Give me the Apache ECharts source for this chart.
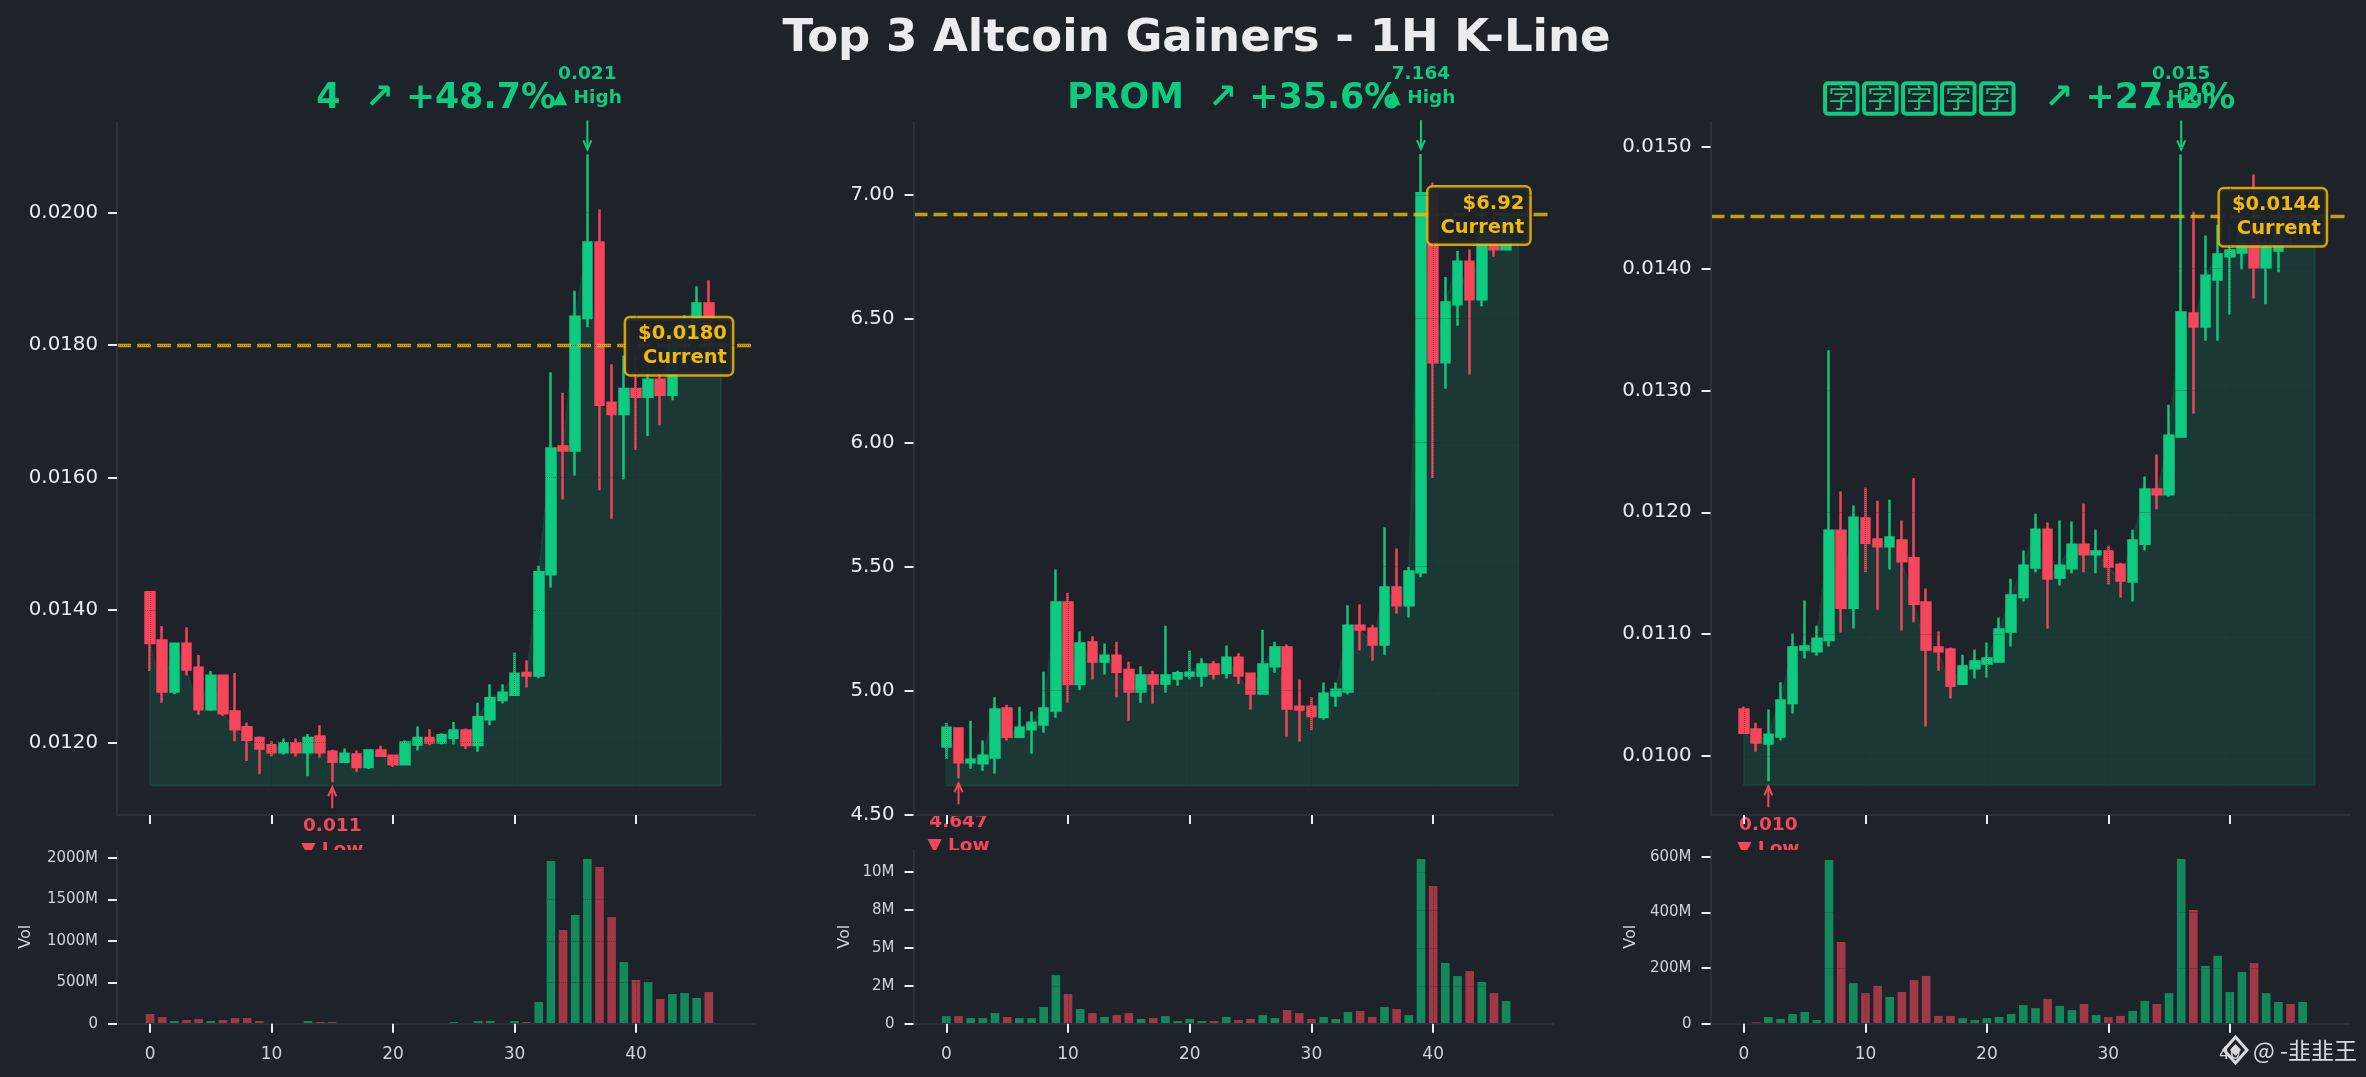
<!DOCTYPE html>
<html>
<head>
<meta charset="utf-8">
<style>html,body{margin:0;padding:0;background:#1e2329}#c{width:2366px;height:1077px}</style>
<script src="https://cdn.jsdelivr.net/npm/echarts@6/dist/echarts.min.js"></script>
</head>
<body>
<div id="c"></div>
<script>
const mainTitle = 'Top 3 Altcoin Gainers - 1H K-Line';
const xTicks = [0, 10, 20, 30, 40];
const watermark = '@ -韭韭王';

// ---- panel 1: "4"
const open1 = [.01427,.01354,.01277,.01349,.01313,.01250,.01301,.01247,.01223,.01207,.01196,.01185,.01199,.01185,.01209,.01186,.01171,.01182,.01163,.01188,.01180,.01167,.01197,.01207,.01200,.01207,.01218,.01196,.01235,.01264,.01272,.01305,.01301,.01454,.01647,.01641,.01841,.01955,.01713,.01696,.01734,.01722,.01748,.01725,.01808,.01832,.01863];
const close1 = [.01350,.01277,.01349,.01310,.01250,.01301,.01244,.01220,.01204,.01191,.01185,.01199,.01185,.01207,.01185,.01171,.01183,.01163,.01188,.01180,.01167,.01200,.01207,.01200,.01211,.01218,.01196,.01238,.01267,.01275,.01304,.01301,.01457,.01644,.01641,.01843,.01955,.01710,.01696,.01734,.01722,.01748,.01725,.01808,.01832,.01863,.01800];
const low1 = [.01308,.01260,.01273,.01301,.01242,.01248,.01240,.01202,.01172,.01152,.01179,.01182,.01179,.01149,.01177,.01140,.01169,.01156,.01160,.01178,.01163,.01166,.01188,.01196,.01197,.01197,.01190,.01186,.01226,.01259,.01272,.01283,.01297,.01434,.01567,.01603,.01827,.01581,.01538,.01597,.01642,.01663,.01679,.01717,.01790,.01815,.01785];
const high1 = [.01428,.01376,.01350,.01374,.01332,.01308,.01302,.01305,.01230,.01209,.01202,.01206,.01206,.01213,.01226,.01189,.01191,.01188,.01189,.01195,.01182,.01203,.01224,.01220,.01214,.01231,.01221,.01260,.01288,.01288,.01336,.01324,.01467,.01759,.01728,.01882,.02088,.02005,.01771,.01784,.01784,.01769,.01762,.01823,.01845,.01889,.01898];
const vol1 = [117,80,32,44,56,32,44,68,68,32,3,3,3,32,20,20,3,3,3,3,3,3,3,3,3,20,5,32,32,5,32,20,262,1964,1130,1312,1988,1891,1288,744,527,503,298,358,370,310,382];
const priceTicks1 = [0.012,0.014,0.016,0.018,0.020];
const priceLabels1 = ['0.0120','0.0140','0.0160','0.0180','0.0200'];
const volTicks1 = [0,500,1000,1500,2000];
const volLabels1 = ['0','500M','1000M','1500M','2000M'];

// ---- panel 2: PROM
const open2 = [4.775,4.848,4.711,4.707,4.730,4.928,4.814,4.844,4.863,4.920,5.356,5.027,5.194,5.117,5.141,5.084,4.996,5.061,5.029,5.049,5.061,5.061,5.106,5.072,5.133,5.068,4.988,5.098,5.174,4.935,4.935,4.894,4.980,4.996,5.262,5.250,5.186,5.416,5.344,5.477,7.006,6.324,6.558,6.730,6.578,6.850,6.780];
const close2 = [4.851,4.711,4.722,4.738,4.924,4.814,4.851,4.871,4.928,5.356,5.027,5.190,5.117,5.141,5.076,4.996,5.061,5.029,5.061,5.070,5.072,5.106,5.068,5.133,5.061,4.988,5.106,5.174,4.928,4.924,4.898,4.988,5.004,5.262,5.246,5.186,5.416,5.344,5.481,7.006,6.324,6.566,6.730,6.578,6.850,6.780,6.920];
const low2 = [4.724,4.647,4.685,4.677,4.666,4.799,4.810,4.746,4.830,4.891,4.951,5.002,5.045,5.065,4.973,4.879,4.951,4.947,4.992,5.020,5.045,5.016,5.045,5.049,5.027,4.924,4.988,5.072,4.814,4.795,4.840,4.883,4.935,4.984,5.162,5.121,5.145,5.311,5.295,5.457,5.858,6.218,6.472,6.275,6.550,6.750,6.802];
const high2 = [4.871,4.851,4.879,4.799,4.973,4.943,4.935,4.916,5.076,5.489,5.395,5.239,5.219,5.190,5.197,5.117,5.098,5.080,5.262,5.080,5.162,5.131,5.121,5.182,5.151,5.072,5.246,5.197,5.186,5.045,4.973,5.033,5.033,5.344,5.348,5.266,5.659,5.573,5.500,7.164,7.049,6.668,6.773,6.779,6.950,6.930,6.980];
const vol2 = [.5,.5,.37,.37,.7,.44,.37,.37,1.1,3.2,1.96,.97,.7,.44,.57,.7,.31,.37,.5,.18,.31,.18,.18,.44,.24,.31,.57,.37,.9,.7,.31,.44,.31,.77,.84,.44,1.1,.97,.57,10.86,9.08,4.0,3.14,3.47,2.75,2.02,1.49];
const priceTicks2 = [4.5,5,5.5,6,6.5,7];
const priceLabels2 = ['4.50','5.00','5.50','6.00','6.50','7.00'];
const volTicks2 = [0,2.5,5,7.5,10];
const volLabels2 = ['0','2M','5M','8M','10M'];

// ---- panel 3: token whose name was drawn as missing-glyph boxes
const open3 = [.010382,.010219,.010103,.010159,.010434,.010875,.010859,.010951,.011850,.011217,.011949,.011778,.011722,.011770,.011623,.011261,.010891,.010875,.010593,.010720,.010760,.010776,.011022,.011305,.011547,.011858,.011464,.011540,.011734,.011655,.011679,.011571,.011432,.011742,.012188,.012148,.012622,.013632,.013525,.013910,.014101,.014133,.014340,.014010,.014149,.014360,.014300];
const close3 = [.010191,.010111,.010175,.010457,.010891,.010899,.010963,.011850,.011217,.011957,.011750,.011722,.011794,.011599,.011249,.010875,.010859,.010577,.010736,.010776,.010800,.011038,.011317,.011563,.011858,.011456,.011563,.011734,.011655,.011679,.011555,.011440,.011770,.012188,.012148,.012630,.013640,.013525,.013942,.014117,.014149,.014340,.014010,.014173,.014340,.014300,.014430];
const low3 = [.010185,.010036,.009793,.010127,.010350,.010800,.010823,.010899,.011014,.011046,.011508,.011201,.011532,.011030,.011098,.010243,.010700,.010473,.010593,.010636,.010644,.010776,.010899,.011269,.011508,.011046,.011400,.011500,.011508,.011500,.011408,.011301,.011269,.011687,.012025,.012128,.012622,.012812,.013409,.013409,.013624,.013994,.013755,.013708,.013970,.014200,.014230];
const high3 = [.010406,.010274,.010382,.010605,.011006,.011277,.011070,.013330,.012172,.012057,.012204,.012096,.012104,.011933,.012279,.011376,.011022,.010891,.010831,.010875,.010931,.011138,.011456,.011687,.011989,.011917,.011933,.011925,.012073,.011858,.011726,.011587,.011858,.012295,.012474,.012884,.014937,.014467,.014272,.014360,.014360,.014430,.014774,.014400,.014480,.014470,.014500];
const vol3 = [1,5,24,17,35,42,13,589,294,146,110,136,96,114,157,172,28,28,20,13,20,24,35,67,56,89,64,49,71,31,24,28,46,82,71,110,593,409,208,244,114,186,218,110,78,71,78];
const priceTicks3 = [0.010,0.011,0.012,0.013,0.014,0.015];
const priceLabels3 = ['0.0100','0.0110','0.0120','0.0130','0.0140','0.0150'];
const volTicks3 = [0,200,400,600];
const volLabels3 = ['0','200M','400M','600M'];

const GREEN = '#0ecb81', RED = '#f6465d', GOLD = '#f0b90b', BG = '#1e2329', SPINE = '#2b3139', FG = '#eaecef', DIM = '#cfd3d8';
const FONT = '"DejaVu Sans"';

const panels = [
  { open: open1, close: close1, low: low1, high: high1, vol: vol1, priceTicks: priceTicks1, priceLabels: priceLabels1, volTicks: volTicks1, volLabels: volLabels1,
    left: 117, width: 638, xMin: -2.72, xMax: 49.8, yMin: 0.010905, yMax: 0.02137, volMax: 2096, base: 0.01135, current: 0.0180, currentText: '$0.0180\nCurrent',
    highX: 36, highText: '0.021\n▲ High', lowX: 15, lowText: '0.011\n▼ Low', volGap: 83,
    title: '4  ↗ +48.7%' },
  { open: open2, close: close2, low: low2, high: high2, vol: vol2, priceTicks: priceTicks2, priceLabels: priceLabels2, volTicks: volTicks2, volLabels: volLabels2,
    left: 913.5, width: 639.5, xMin: -2.7, xMax: 49.85, yMin: 4.4985, yMax: 7.2935, volMax: 11.45, base: 4.617, current: 6.92, currentText: '$6.92\nCurrent',
    highX: 39, highText: '7.164\n▲ High', lowX: 1, lowText: '4.647\n▼ Low', volGap: 61,
    title: 'PROM  ↗ +35.6%' },
  { open: open3, close: close3, low: low3, high: high3, vol: vol3, priceTicks: priceTicks3, priceLabels: priceLabels3, volTicks: volTicks3, volLabels: volLabels3,
    left: 1710.5, width: 639.5, xMin: -2.76, xMax: 49.9, yMin: 0.009516, yMax: 0.015204, volMax: 625, base: 0.00976, current: 0.01443, currentText: '$0.0144\nCurrent',
    highX: 36, highText: '0.015\n▲ High', lowX: 2, lowText: '0.010\n▼ Low', volGap: 72,
    title: '{t|字}{g| }{t|字}{g| }{t|字}{g| }{t|字}{g| }{t|字}{g| }  ↗ +27.2%' }
];

const MAIN_TOP = 122, MAIN_H = 693, VOL_TOP = 850, VOL_H = 173.7;
const option = { animation: false, backgroundColor: BG, grid: [], xAxis: [], yAxis: [], series: [],
  title: [{ text: mainTitle, left: 1196.5, top: 17, padding: 0, textAlign: 'center', textStyle: { color: FG, fontFamily: FONT, fontWeight: 'bold', fontSize: 45 } }],
  graphic: [] };

const spine = { show: true, onZero: false, lineStyle: { color: SPINE, width: 2 } };
const tick = (vals) => ({ show: true, length: 9, customValues: vals, lineStyle: { color: FG, width: 2 } });
const dots = (vals) => ({ show: true, customValues: vals, lineStyle: { color: BG, type: 'dotted', width: 1, opacity: 0.45 } });

panels.forEach((p, i) => {
  const gi = i * 2, gv = i * 2 + 1;
  const seriesColor = p.close.map((c, k) => c >= p.open[k] ? GREEN : RED);
  option.grid.push({ left: p.left, top: MAIN_TOP, width: p.width, height: MAIN_H },
                   { left: p.left, top: VOL_TOP, width: p.width, height: VOL_H });
  option.title.push({ text: p.title, left: p.left + p.width / 2, top: 81, padding: 0, textAlign: 'center',
    textStyle: { color: GREEN, fontFamily: FONT, fontWeight: 'bold', fontSize: 34.8,
      rich: { t: { fontFamily: '"Noto Sans CJK SC"', fontWeight: 'normal', fontSize: 26, color: GREEN, width: 32.5, height: 30.5, align: 'center',
                   borderColor: GREEN, borderWidth: 4, borderRadius: 3 },
              g: { width: 6.5, fontSize: 10 } } } });

  const xBase = { type: 'value', min: p.xMin, max: p.xMax, axisLine: spine, z: 10 };
  option.xAxis.push(
    Object.assign({}, xBase, { gridIndex: gi, axisTick: tick(xTicks), axisLabel: { show: false }, splitLine: dots(xTicks) }),
    Object.assign({}, xBase, { gridIndex: gv, axisTick: tick(xTicks), splitLine: dots(xTicks),
      axisLabel: { show: true, customValues: xTicks, color: DIM, fontFamily: FONT, fontSize: 17, margin: 22 } }));

  option.yAxis.push(
    { type: 'value', gridIndex: gi, min: p.yMin, max: p.yMax, axisLine: spine, z: 10,
      axisTick: tick(p.priceTicks), splitLine: dots(p.priceTicks),
      axisLabel: { show: true, customValues: p.priceTicks, color: FG, fontFamily: FONT, fontSize: 19.8, margin: 19,
        formatter: v => p.priceLabels[p.priceTicks.indexOf(v)] } },
    { type: 'value', gridIndex: gv, min: 0, max: p.volMax, axisLine: spine, z: 10,
      name: 'Vol', nameLocation: 'middle', nameRotate: 90, nameGap: p.volGap,
      nameTextStyle: { color: DIM, fontFamily: FONT, fontSize: 16 },
      axisTick: tick(p.volTicks), splitLine: dots(p.volTicks),
      axisLabel: { show: true, customValues: p.volTicks, color: DIM, fontFamily: FONT, fontSize: 15, margin: 19,
        formatter: v => p.volLabels[p.volTicks.indexOf(v)] } });

  const closeLine = p.close.map((c, k) => [k, c]).concat([[p.close.length, p.current]]);
  const outline = [[p.close.length, p.current], [p.close.length, p.base], [0, p.base], [0, p.close[0]]];
  option.series.push(
    { type: 'line', xAxisIndex: gi, yAxisIndex: gi, data: closeLine, symbol: 'none', z: 1, silent: true,
      lineStyle: { color: GREEN, width: 1.5, opacity: 0.13 }, areaStyle: { color: GREEN, opacity: 0.13, origin: p.base } },
    { type: 'line', xAxisIndex: gi, yAxisIndex: gi, data: outline, symbol: 'none', z: 1, silent: true,
      lineStyle: { color: GREEN, width: 2, opacity: 0.13 } },
    { type: 'candlestick', xAxisIndex: gi, yAxisIndex: gi, z: 2, barWidth: 9, silent: true,
      encode: { x: 0, y: [1, 2, 3, 4] },
      data: p.open.map((o, k) => [k, o, p.close[k], p.low[k], p.high[k]]),
      itemStyle: { color: GREEN, color0: RED, borderColor: GREEN, borderColor0: RED, borderWidth: 2.4 },
      markLine: { silent: true, symbol: 'none', precision: 6, label: { show: false },
        lineStyle: { color: GOLD, width: 3.4, type: [14, 6], opacity: 0.8 },
        data: [{ yAxis: p.current }] } },
    // high / low arrows and their labels, anchored on the data through the axes
    { type: 'custom', xAxisIndex: gi, yAxisIndex: gi, z: 6, silent: true, clip: false,
      encode: { x: 0, y: 1 },
      data: [[p.highX, p.high[p.highX], 1], [p.lowX, p.low[p.lowX], -1]],
      renderItem: (params, api) => {
        const pt = api.coord([api.value(0), api.value(1)]);
        const up = api.value(2) > 0;
        const col = up ? GREEN : RED, s = up ? -1 : 1;
        const tipY = pt[1] + s * 5, tailY = pt[1] + (up ? -34 : 26);
        return { type: 'group', children: [
          { type: 'line', shape: { x1: pt[0], y1: tipY, x2: pt[0], y2: tailY }, style: { stroke: col, lineWidth: 2 } },
          { type: 'polyline', shape: { points: [[pt[0] - 4, tipY + s * 9], [pt[0], tipY], [pt[0] + 4, tipY + s * 9]] }, style: { stroke: col, lineWidth: 2, fill: null } },
          { type: 'text', style: { text: up ? p.highText : p.lowText, x: pt[0], y: up ? pt[1] - 44 : pt[1] + 32, align: 'center', verticalAlign: up ? 'bottom' : 'top',
              font: 'bold 18.5px ' + FONT, lineHeight: 24, fill: col } }
        ] };
      } },
    // current-price tag
    { type: 'custom', xAxisIndex: gi, yAxisIndex: gi, z: 6, silent: true, clip: false,
      encode: { x: 0, y: 1 },
      data: [[47.9, p.current]],
      renderItem: (params, api) => {
        const pt = api.coord([api.value(0), api.value(1)]);
        return { type: 'text', style: { text: p.currentText, x: pt[0], y: pt[1] + 1, align: 'right', verticalAlign: 'middle',
          font: 'bold 19.5px ' + FONT, lineHeight: 24, fill: GOLD, backgroundColor: 'rgba(30,35,41,0.94)',
          borderColor: 'rgba(240,185,11,0.85)', borderWidth: 2.5, borderRadius: 4, padding: [4, 5, 4, 12] } };
      } },
    // the volume panel hides whatever the low label runs into
    { type: 'custom', xAxisIndex: gv, yAxisIndex: gv, z: 7, silent: true, clip: false,
      encode: { x: 0, y: 1 },
      data: [[p.lowX, p.volMax]],
      renderItem: (params, api) => {
        const a = api.coord([api.value(0) - 3.2, api.value(1)]);
        const b = api.coord([api.value(0) + 3.2, api.value(1)]);
        return { type: 'rect', shape: { x: a[0], y: a[1], width: b[0] - a[0], height: 24 }, style: { fill: BG } };
      } },
    { type: 'bar', xAxisIndex: gv, yAxisIndex: gv, z: 8, silent: true, barWidth: 8.6,
      data: p.vol.map((v, k) => [k, v]),
      itemStyle: { opacity: 0.6, color: params => seriesColor[params.dataIndex] } }
  );
});

// watermark, bottom right
option.graphic.push(
  { type: 'polygon', z: 20, shape: { points: [[2235.5, 1037], [2247, 1050], [2235.5, 1063], [2224, 1050]] }, style: { fill: null, stroke: '#d8dade', lineWidth: 3 } },
  { type: 'polygon', z: 20, shape: { points: [[2235.5, 1044], [2241, 1050], [2235.5, 1056], [2230, 1050]] }, style: { fill: '#d8dade' } },
  { type: 'text', z: 20, x: 2253, y: 1050, style: { text: watermark, font: '23px "Noto Sans CJK SC"', fill: '#d8dade', verticalAlign: 'middle' } }
);

const chart = echarts.init(document.getElementById('c'), null, { width: 2366, height: 1077, renderer: 'canvas' });
chart.setOption(option);
</script>
</body>
</html>
